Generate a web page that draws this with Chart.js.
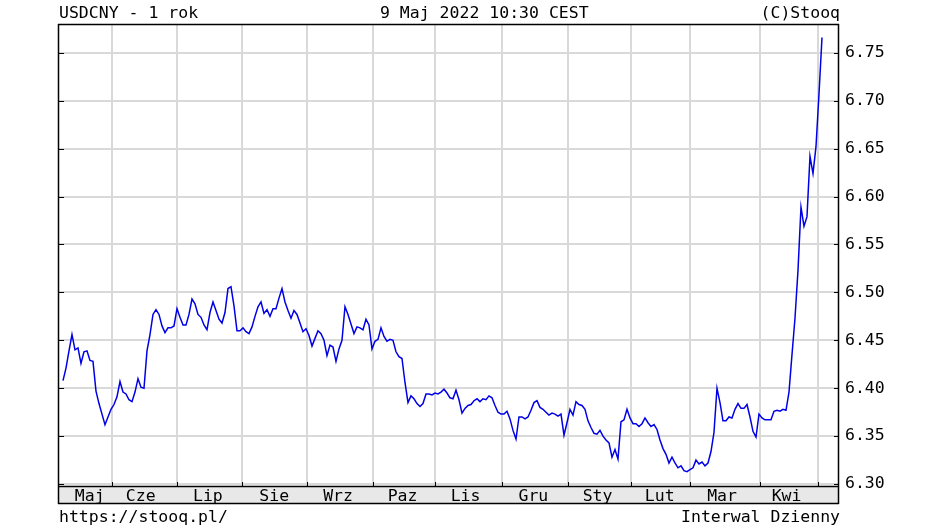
<!DOCTYPE html>
<html lang="pl">
<head>
<meta charset="utf-8">
<title>USDCNY - 1 rok</title>
<script src="https://cdn.jsdelivr.net/npm/chart.js@4"></script>
<style>
    body { margin: 0; background: #fff; }
    canvas { display: block; }
</style>
</head>
<body>
<canvas id="chart" width="933" height="528"></canvas>
<script>
// daily USDCNY closes, May 2021 - May 2022 (one per trading day)
const closes = [
    6.408, 6.421, 6.439, 6.456, 6.440, 6.442, 6.426, 6.438, 6.439, 6.429,
    6.428, 6.397, 6.384, 6.373, 6.362, 6.370, 6.378, 6.383, 6.391, 6.407,
    6.396, 6.394, 6.388, 6.386, 6.396, 6.410, 6.401, 6.400, 6.439, 6.456,
    6.477, 6.482, 6.477, 6.465, 6.458, 6.463, 6.463, 6.465, 6.483, 6.474,
    6.466, 6.466, 6.477, 6.493, 6.488, 6.477, 6.474, 6.466, 6.461, 6.479,
    6.490, 6.481, 6.472, 6.468, 6.479, 6.504, 6.506, 6.486, 6.460, 6.460,
    6.463, 6.459, 6.457, 6.464, 6.475, 6.485, 6.490, 6.478, 6.482, 6.475,
    6.483, 6.483, 6.494, 6.504, 6.490, 6.481, 6.473, 6.481, 6.477, 6.468,
    6.459, 6.462, 6.455, 6.444, 6.452, 6.460, 6.457, 6.450, 6.434, 6.445,
    6.443, 6.428, 6.441, 6.450, 6.485, 6.477, 6.467, 6.457, 6.464, 6.463,
    6.461, 6.472, 6.466, 6.441, 6.449, 6.451, 6.463, 6.454, 6.449, 6.451,
    6.450, 6.438, 6.433, 6.431, 6.406, 6.385, 6.392, 6.389, 6.384, 6.381,
    6.384, 6.394, 6.394, 6.393, 6.395, 6.394, 6.396, 6.399, 6.395, 6.390,
    6.389, 6.398, 6.388, 6.374, 6.379, 6.382, 6.383, 6.387, 6.389, 6.386,
    6.389, 6.388, 6.392, 6.390, 6.382, 6.375, 6.373, 6.373, 6.376, 6.368,
    6.356, 6.347, 6.370, 6.370, 6.368, 6.370, 6.377, 6.385, 6.387, 6.380,
    6.378, 6.375, 6.372, 6.374, 6.373, 6.371, 6.373, 6.351, 6.364, 6.378,
    6.372, 6.386, 6.383, 6.382, 6.378, 6.366, 6.359, 6.353, 6.352, 6.356,
    6.350, 6.346, 6.343, 6.328, 6.336, 6.326, 6.365, 6.367, 6.378, 6.369,
    6.363, 6.363, 6.360, 6.363, 6.369, 6.364, 6.360, 6.362, 6.357, 6.346,
    6.337, 6.331, 6.322, 6.328, 6.322, 6.317, 6.319, 6.314, 6.313, 6.315,
    6.317, 6.325, 6.321, 6.323, 6.319, 6.322, 6.334, 6.354, 6.400, 6.385,
    6.366, 6.366, 6.370, 6.369, 6.378, 6.384, 6.379, 6.379, 6.383, 6.370,
    6.355, 6.349, 6.373, 6.369, 6.367, 6.367, 6.367, 6.376, 6.377, 6.376,
    6.378, 6.377, 6.396, 6.435, 6.473, 6.523, 6.589, 6.569, 6.579, 6.642,
    6.624, 6.652, 6.707, 6.766
];

// month boundaries and label positions, in trading-day index
const monthStarts = [16.2, 37.9, 59.7, 81.4, 103.5, 124, 146.3, 168.5, 189.4, 209.1, 232.2, 251.7];
const monthNames = ['Maj', 'Cze', 'Lip', 'Sie', 'Wrz', 'Paz', 'Lis', 'Gru', 'Sty', 'Lut', 'Mar', 'Kwi'];
const monthMids = [8.9, 25.9, 48.3, 70.4, 91.7, 113.2, 134.2, 156.8, 178.2, 198.9, 219.7, 241.2];

const yTicks = [6.30, 6.35, 6.40, 6.45, 6.50, 6.55, 6.60, 6.65, 6.70, 6.75];
const yMin = 6.298;
const yMax = 6.780;
const xMin = -1.33;
const xMax = 258.67;

const FONT = "'DejaVu Sans Mono', 'Liberation Mono', monospace";
const GRID = '#d9d9d9';

const frame = {
    id: 'frame',
    beforeDraw(chart) {
        const { ctx, chartArea: a } = chart;
        ctx.save();
        ctx.fillStyle = '#e8e8e8';
        ctx.fillRect(a.left, a.bottom, a.right - a.left, 18);
        ctx.restore();
    },
    afterDraw(chart) {
        const { ctx, chartArea: a } = chart;
        const y = chart.scales.y;
        const x = chart.scales.x;
        ctx.save();
        ctx.strokeStyle = '#000';
        ctx.lineWidth = 1.5;
        ctx.beginPath();
        ctx.moveTo(a.left - 0.5, a.top);
        ctx.lineTo(a.left - 0.5, a.bottom + 18);
        ctx.moveTo(a.right - 0.5, a.top);
        ctx.lineTo(a.right - 0.5, a.bottom + 18);
        ctx.moveTo(a.left - 1, a.top + 0.5);
        ctx.lineTo(a.right, a.top + 0.5);
        ctx.moveTo(a.left - 1, a.bottom + 0.5);
        ctx.lineTo(a.right, a.bottom + 0.5);
        ctx.moveTo(a.left - 1, a.bottom + 17.5);
        ctx.lineTo(a.right, a.bottom + 17.5);
        ctx.stroke();

        // short inward ticks
        ctx.lineWidth = 1;
        ctx.beginPath();
        yTicks.forEach(v => {
            const py = Math.round(y.getPixelForValue(v)) + 0.5;
            ctx.moveTo(a.left, py);
            ctx.lineTo(a.left + 5, py);
            ctx.moveTo(a.right - 5, py);
            ctx.lineTo(a.right, py);
        });
        monthStarts.forEach(v => {
            const px = Math.round(x.getPixelForValue(v)) + 0.5;
            ctx.moveTo(px, a.bottom);
            ctx.lineTo(px, a.bottom - 4);
        });
        ctx.stroke();

        ctx.fillStyle = '#000';
        ctx.font = '16.5px ' + FONT;
        ctx.textBaseline = 'alphabetic';
        ctx.textAlign = 'left';
        ctx.fillText('USDCNY - 1 rok', a.left, 18);
        ctx.fillText('9 Maj 2022 10:30 CEST', 380, 18);
        ctx.fillText('https://stooq.pl/', a.left, 522);
        ctx.textAlign = 'right';
        ctx.fillText('(C)Stooq', a.right + 1, 18);
        ctx.fillText('Interwal Dzienny', a.right + 1, 522);
        ctx.restore();
    }
};

const ctx = document.getElementById('chart').getContext('2d');
new Chart(ctx, {
    type: 'line',
    data: {
        datasets: [{
            data: closes.map((v, i) => ({ x: i, y: v })),
            borderColor: '#0000e6',
            borderWidth: 1.5,
            pointRadius: 0,
            tension: 0
        }]
    },
    options: {
        responsive: false,
        devicePixelRatio: 1,
        animation: false,
        parsing: false,
        layout: { padding: { left: 59, top: 24, right: 0, bottom: 0 } },
        plugins: { legend: { display: false }, tooltip: { enabled: false } },
        scales: {
            x: {
                type: 'linear',
                position: 'bottom',
                min: xMin,
                max: xMax,
                afterBuildTicks: s => { s.ticks = monthStarts.map(v => ({ value: v })); },
                afterFit: s => { s.height = 0; },
                ticks: { display: false },
                grid: { color: GRID, lineWidth: 2, drawTicks: false },
                border: { display: false }
            },
            xl: {
                type: 'linear',
                position: 'bottom',
                min: xMin,
                max: xMax,
                afterBuildTicks: s => { s.ticks = monthMids.map(v => ({ value: v })); },
                afterFit: s => { s.height = 42; },
                ticks: {
                    autoSkip: false,
                    maxRotation: 0,
                    padding: 1,
                    color: '#000',
                    font: { family: FONT, size: 16.5 },
                    callback: (v, i) => monthNames[i]
                },
                grid: { display: false, drawTicks: false },
                border: { display: false }
            },
            y: {
                position: 'right',
                min: yMin,
                max: yMax,
                afterBuildTicks: s => { s.ticks = yTicks.map(v => ({ value: v })); },
                afterFit: s => { s.width = 94; },
                ticks: {
                    padding: 6,
                    color: '#000',
                    font: { family: FONT, size: 16.5 },
                    callback: v => v.toFixed(2)
                },
                grid: { color: GRID, lineWidth: 2, drawTicks: false },
                border: { display: false }
            }
        }
    },
    plugins: [frame]
});
</script>
</body>
</html>
